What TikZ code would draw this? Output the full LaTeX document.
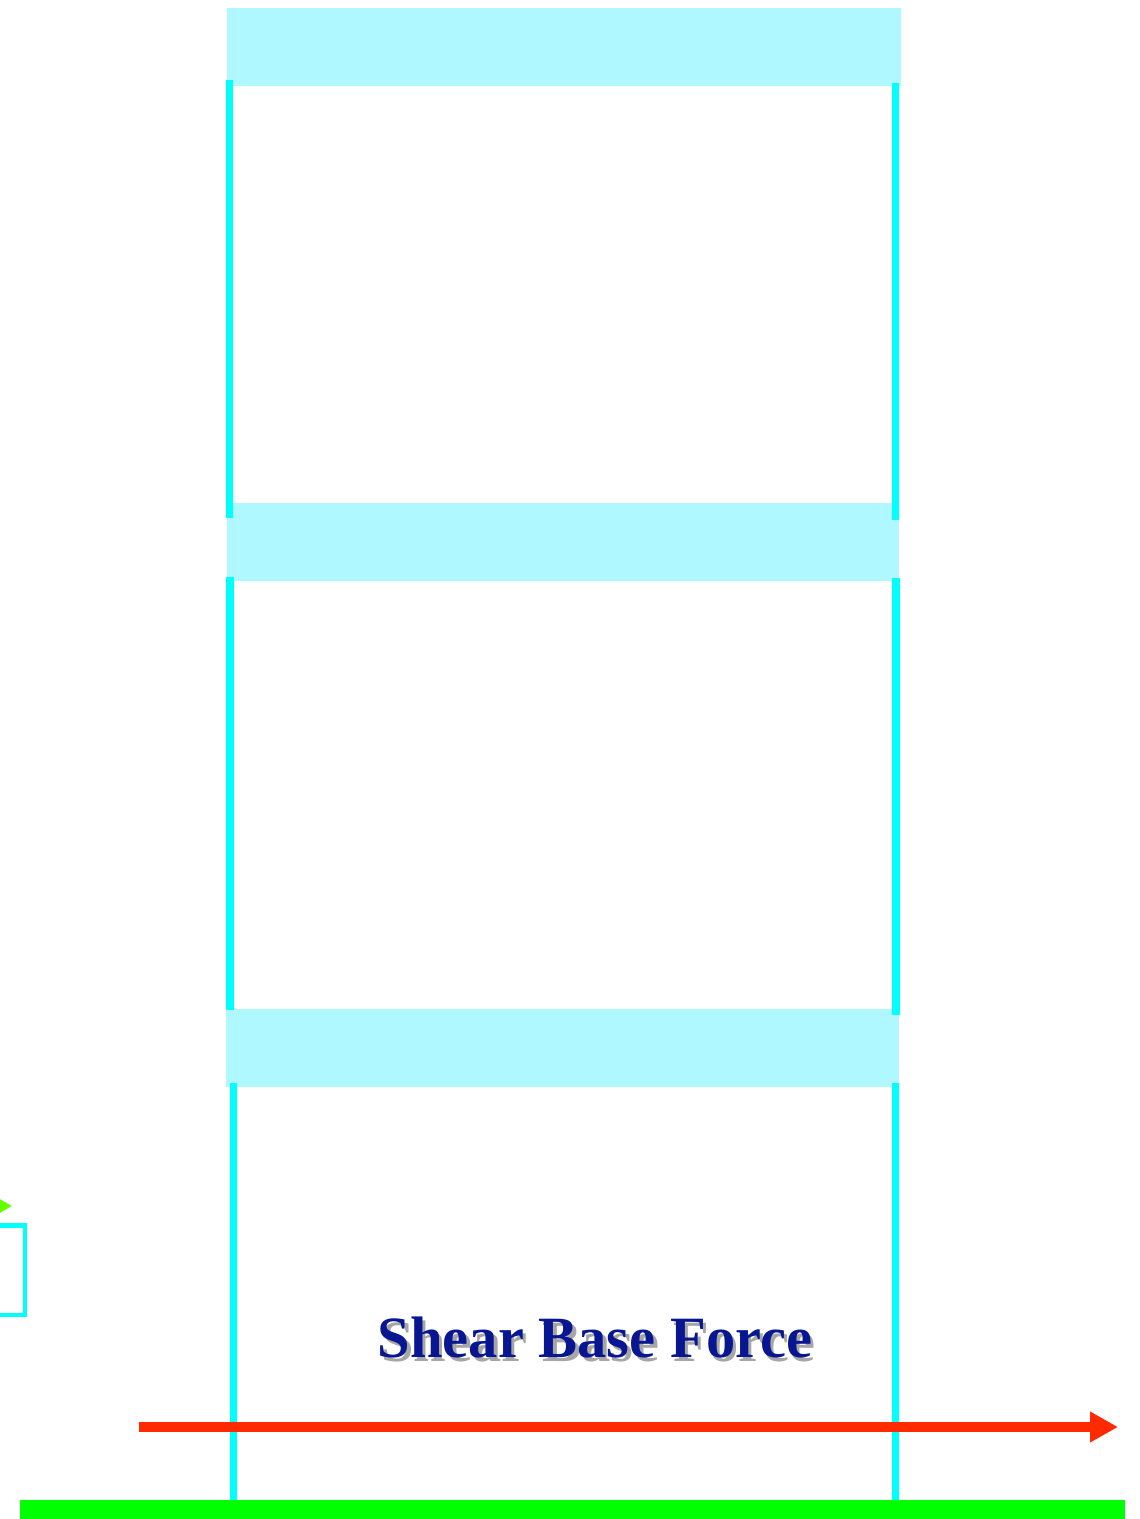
\documentclass[tikz,border=0pt]{standalone}
\usepackage{fontspec}
\newfontfamily\shearfont{Liberation Serif}
\usetikzlibrary{positioning, calc, arrows.meta}

\definecolor{slabcyan}{RGB}{176,248,255}
\definecolor{colcyan}{RGB}{0,255,255}
\definecolor{forcered}{RGB}{255,42,0}
\definecolor{groundgreen}{RGB}{0,255,0}
\definecolor{pushgreen}{RGB}{100,255,0}
\definecolor{labelnavy}{RGB}{8,22,145}

\begin{document}
\begin{tikzpicture}[
    x=0.02cm, y=-0.02cm,
    slab/.style={fill=slabcyan, draw=none, minimum height=1.56cm, inner sep=0pt},
    column/.style={draw=colcyan, line width=4pt},
    baseforce/.style={draw=forcered, line width=5.7pt, -{Triangle[length=0.56cm, width=0.58cm]}},
    ground/.style={draw=groundgreen, line width=10.8pt},
    push/.style={draw=pushgreen, line width=4pt, -{Triangle[length=0.3cm, width=0.32cm]}},
    shearlabel/.style={font=\shearfont\bfseries\fontsize{33.3}{40}\selectfont, anchor=base, inner sep=0pt}
]

\clip (0,0) rectangle (1140,1519);
\useasboundingbox (0,0) rectangle (1140,1519);

% floor slabs
\node[slab, minimum width=13.48cm] (roof) at (564,47) {};
\node[slab, minimum width=13.44cm] (floor2) at (563,542) {};
\node[slab, minimum width=13.46cm] (floor1) at (562.5,1048) {};

% columns
\draw[column] (229.5,80) -- (229.5,518);
\draw[column] (895.5,83) -- (895.5,520);
\draw[column] (230,577) -- (230,1010);
\draw[column] (896,578) -- (896,1015);
\draw[column] (233.5,1083) -- (233.5,1500);
\draw[column] (895.5,1083) -- (895.5,1500);

% ground
\coordinate (groundL) at (20,1509.5);
\coordinate (groundR) at (1125,1509.5);
\draw[ground] (groundL) -- (groundR);

% base shear
\coordinate (forceL) at (139,1427);
\coordinate (forceR) at (1118,1427);
\draw[baseforce] (forceL) -- (forceR);

\node[shearlabel, text=black, opacity=0.35] (shearshadow) at (598.5,1361) {Shear Base Force};
\node[shearlabel, text=labelnavy] (shear) at (595,1357) {Shear Base Force};

% cut-off parts on the left
\coordinate (pushL) at (-80,1206);
\coordinate (pushR) at (12,1206);
\draw[push] (pushL) -- (pushR);
\draw[colcyan, line width=2.6pt] (-80,1225.5) rectangle (25,1315);

\end{tikzpicture}
\end{document}
